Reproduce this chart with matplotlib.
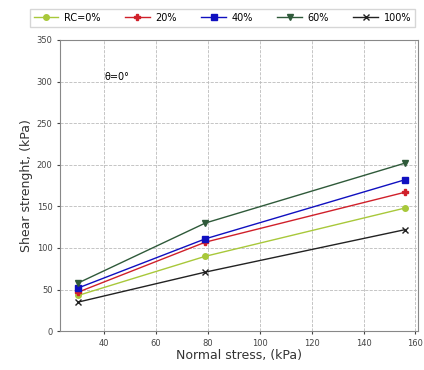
import matplotlib
matplotlib.use("Agg")
import matplotlib.pyplot as plt

normal_stress = [30, 79, 156]
labels = ["RC=0%", "20%", "40%", "60%", "100%"]
rc0 = [43, 90, 148]
rc20 = [47, 107, 167]
rc40 = [52, 111, 182]
rc60 = [58, 130, 202]
rc100 = [35, 71, 122]
series = [rc0, rc20, rc40, rc60, rc100]
colors = ["#a8c83a", "#d0202a", "#1010c0", "#2f5a3a", "#222222"]
markers = ["o", "P", "s", "v", "x"]

fig = plt.figure(figsize=(4.24, 3.70), dpi=100)
ax = fig.add_axes([0.142, 0.105, 0.844, 0.787])
for vals, lab, c, m in zip(series, labels, colors, markers):
    ax.plot(normal_stress, vals, color=c, marker=m, markersize=4, linewidth=1, label=lab)

ax.set_xlim(23, 161)
ax.set_ylim(0, 350)
ax.set_xticks([40, 60, 80, 100, 120, 140, 160])
ax.set_yticks(range(0, 351, 50))
ax.tick_params(labelsize=6, colors="#444444", length=2)
ax.grid(True, linestyle="--", color="#bbbbbb", linewidth=0.6)
for s in ax.spines.values():
    s.set_color("#888888")
ax.set_xlabel("Normal stress, (kPa)", fontsize=9, color="#333333", labelpad=1)
ax.set_ylabel("Shear strenght, (kPa)", fontsize=9, color="#333333", labelpad=3)
ax.text(40, 305, "θ=0°", fontsize=7, ha="left", va="center")

fig.legend(loc="lower left", bbox_to_anchor=(0.06, 0.915, 0.93, 0.07), mode="expand", ncol=5, fontsize=7,
           frameon=True, fancybox=False, edgecolor="#cccccc", handlelength=2.5,
           handletextpad=0.6, borderpad=0.4)

fig.savefig("out.png", dpi=100)
